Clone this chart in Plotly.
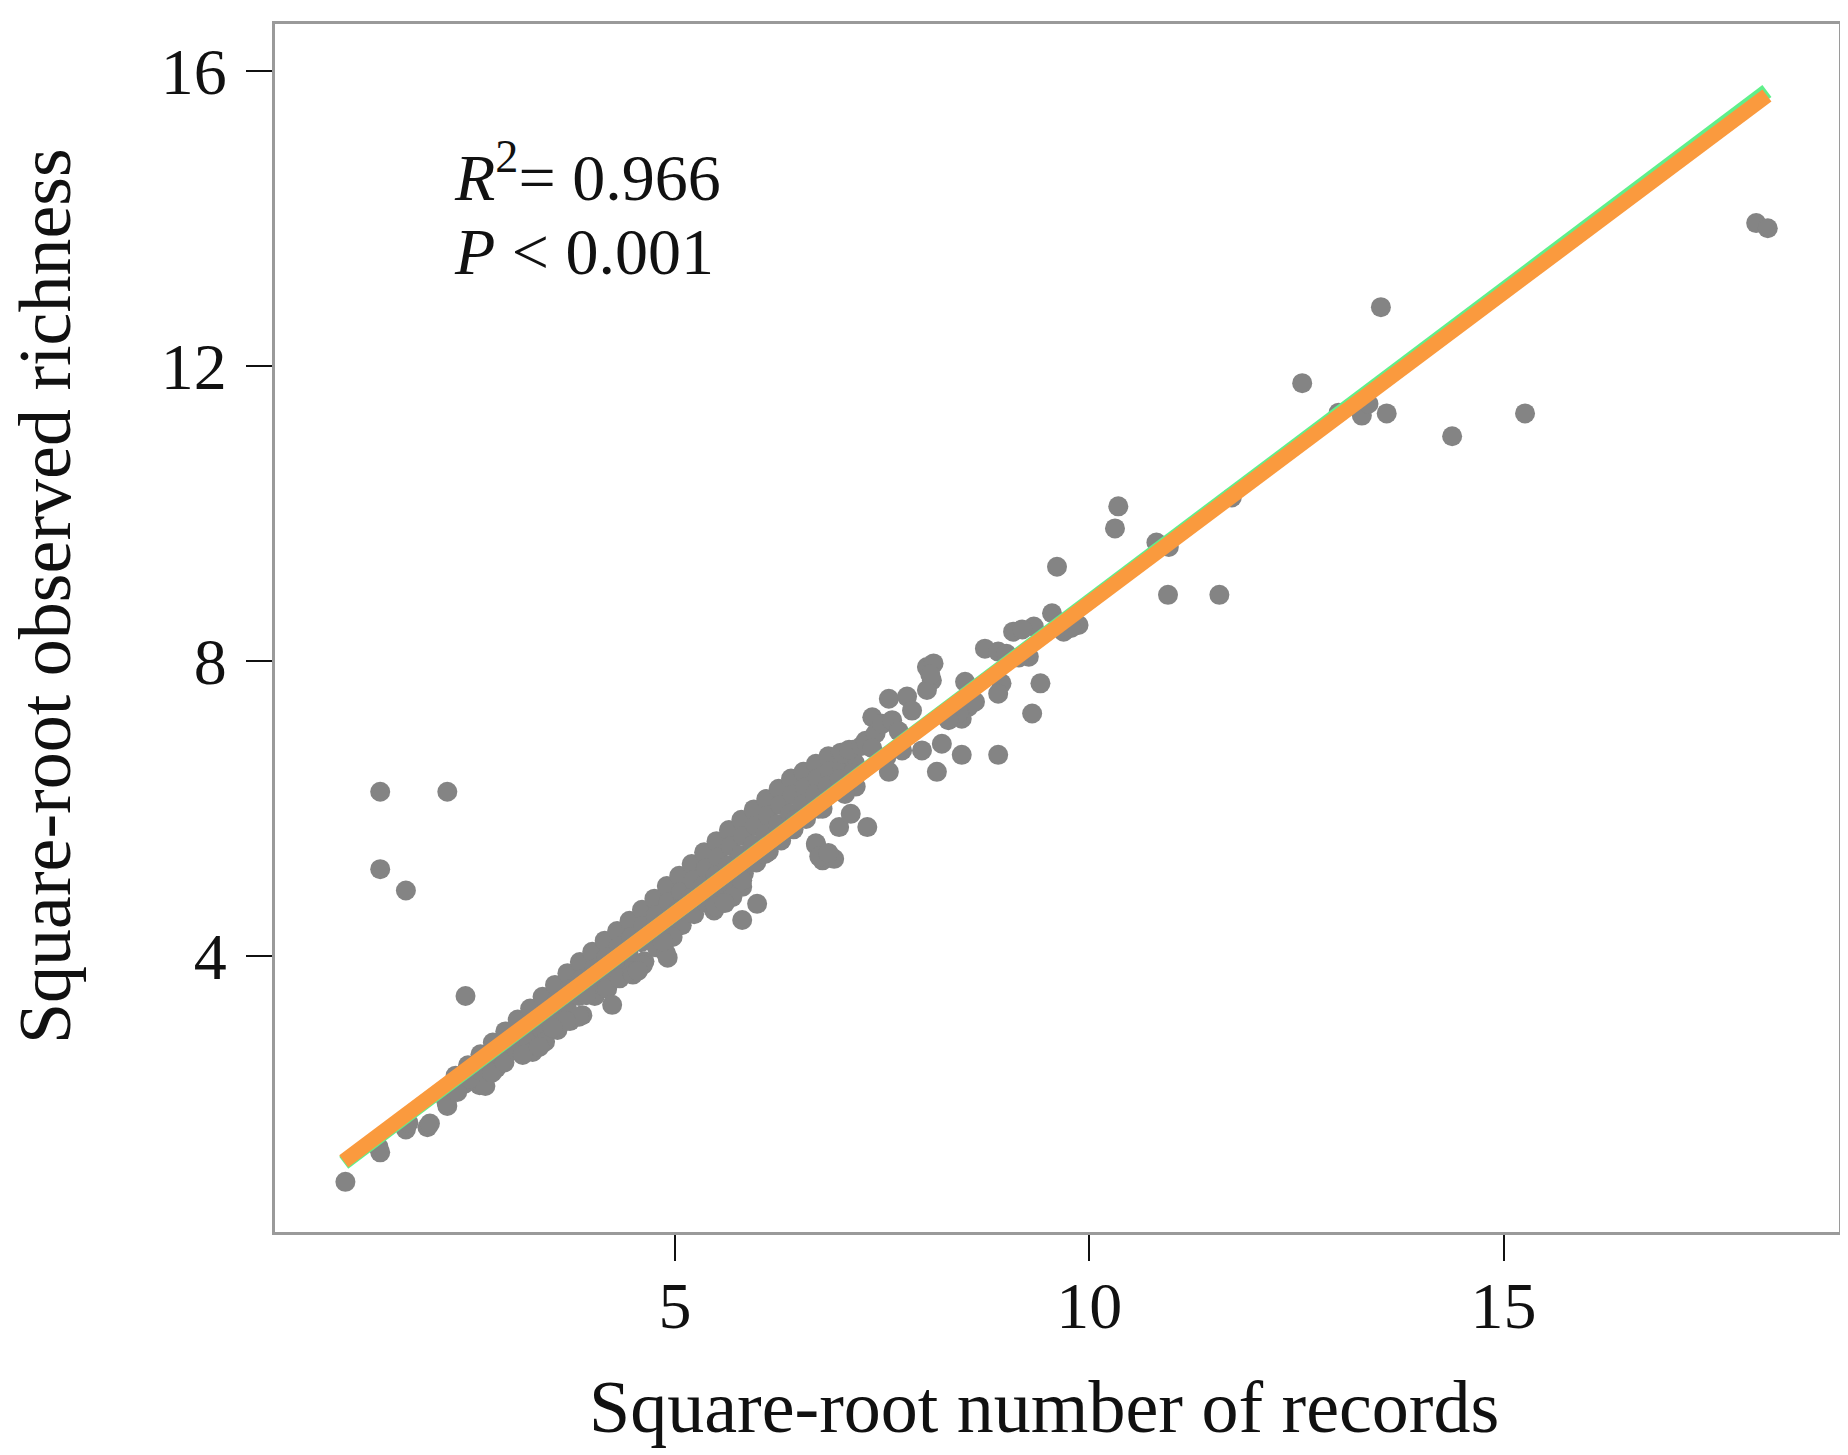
import plotly.graph_objects as go

# ---- data (sqrt records vs sqrt richness) ----
tail_x = [1.02, 1.42, 1.44, 1.75, 1.78, 2.01, 2.04, 2.25, 2.24, 2.47, 1.44, 2.25, 1.44, 1.75, 2.64, 2.46, 2.84, 2.71]
tail_y = [0.94, 1.41, 1.34, 1.65, 1.74, 1.68, 1.73, 1.97, 2.02, 3.46, 6.23, 6.23, 5.18, 4.89, 2.25, 2.27, 2.48, 2.24]

band_x = [2.35, 2.37,
          2.50, 2.52,
          2.65, 2.63,
          2.80, 2.82, 2.79,
          2.95, 2.97, 2.94,
          3.10, 3.12, 3.09,
          3.25, 3.27, 3.24, 3.28,
          3.40, 3.42, 3.39, 3.43,
          3.55, 3.57, 3.54, 3.58,
          3.70, 3.72, 3.69, 3.73,
          3.85, 3.87, 3.84, 3.88,
          4.00, 4.02, 3.99, 4.03,
          4.15, 4.17, 4.14, 4.18,
          4.30, 4.32, 4.29, 4.33,
          4.45, 4.47, 4.44, 4.48,
          4.60, 4.62, 4.59, 4.63,
          4.75, 4.77, 4.74, 4.78,
          4.90, 4.92, 4.89, 4.93,
          5.05, 5.07, 5.04, 5.08,
          5.20, 5.22, 5.19, 5.23,
          5.35, 5.37, 5.34, 5.38,
          5.50, 5.52, 5.49, 5.53,
          5.65, 5.67, 5.64, 5.68,
          5.80, 5.82, 5.79, 5.83,
          5.95, 5.97, 5.94, 5.98,
          6.10, 6.12, 6.09, 6.13,
          6.25, 6.27, 6.24, 6.28,
          6.40, 6.42, 6.39, 6.43,
          6.55, 6.57, 6.54, 6.58,
          6.70, 6.72, 6.69, 6.73,
          6.85, 6.87, 6.84,
          7.00, 7.02, 6.99,
          7.15, 7.17, 7.14]
band_y = [2.38, 2.16,
          2.52, 2.34,
          2.67, 2.46,
          2.83, 2.62, 2.42,
          2.98, 2.77, 2.56,
          3.14, 2.93, 2.72,
          3.29, 3.07, 2.86, 2.70,
          3.45, 3.23, 3.01, 2.84,
          3.61, 3.39, 3.16, 3.00,
          3.77, 3.55, 3.32, 3.12,
          3.92, 3.69, 3.46, 3.20,
          4.06, 3.83, 3.60, 3.46,
          4.21, 3.99, 3.76, 3.56,
          4.34, 4.13, 3.91, 3.70,
          4.48, 4.26, 4.03, 3.80,
          4.63, 4.41, 4.19, 3.93,
          4.78, 4.56, 4.33, 4.12,
          4.95, 4.73, 4.49, 4.27,
          5.09, 4.87, 4.63, 4.42,
          5.25, 5.03, 4.79, 4.57,
          5.41, 5.19, 4.95, 4.72,
          5.56, 5.34, 5.09, 4.86,
          5.71, 5.49, 5.23, 5.00,
          5.85, 5.63, 5.37, 5.12,
          5.99, 5.77, 5.51, 5.27,
          6.13, 5.91, 5.65, 5.42,
          6.27, 6.05, 5.79, 5.57,
          6.41, 6.19, 5.93, 5.72,
          6.50, 6.29, 6.06, 5.86,
          6.61, 6.41, 6.19, 6.00,
          6.71, 6.51, 6.31,
          6.76, 6.56, 6.40,
          6.80, 6.62, 6.48]

mid_x = [4.24, 4.89, 4.91, 4.97, 4.85, 4.49, 4.61, 4.55, 3.93, 3.84, 3.68, 3.52, 3.16, 3.36,
         5.47, 5.49, 5.81, 5.99, 5.81, 5.69, 5.60, 5.81, 6.09, 6.07, 6.41, 6.45,
         6.70, 6.78, 6.70, 6.74, 6.92, 6.85, 6.98, 7.12, 7.32, 6.78, 7.18, 7.05,
         7.02, 7.10, 7.25, 7.30, 7.38, 7.42, 7.38, 7.50, 7.58, 7.62, 7.70, 7.80, 7.86, 7.74, 7.55, 7.98, 7.58,
         8.22, 8.46, 8.90, 8.16,
         8.04, 8.12, 8.10, 8.04, 8.08, 8.50, 8.54, 8.46, 8.42, 8.30, 8.62,
         8.74, 8.90, 8.94, 8.90, 9.41, 9.31, 9.27, 9.33, 9.08, 9.19, 9.55, 9.69, 9.87, 9.78, 9.61, 9.00, 9.15]
mid_y = [3.34, 4.04, 3.98, 4.26, 4.20, 3.75, 3.88, 3.80, 3.47, 3.18, 3.12, 3.03, 2.66, 2.77,
         4.62, 4.67, 4.49, 4.71, 4.94, 4.80, 4.72, 5.03, 5.39, 5.39, 5.75, 5.85,
         5.51, 5.30, 5.53, 5.35, 5.32, 5.40, 5.75, 5.93, 5.75, 6.00, 6.30, 6.20,
         6.75, 6.80, 6.85, 6.92, 7.24, 7.02, 6.82, 7.15, 7.49, 7.20, 7.05, 7.52, 7.33, 6.79, 6.70, 6.79, 6.50,
         6.88, 6.73, 6.73, 6.50,
         7.92, 7.97, 7.74, 7.61, 7.82, 7.72, 7.38, 7.22, 7.30, 7.20, 7.45,
         8.17, 8.13, 7.70, 7.56, 7.70, 7.29, 8.06, 8.47, 8.40, 8.43, 8.65, 8.40, 8.49, 8.45, 9.28, 8.10, 8.05]

high_x = [10.35, 10.31, 10.81, 10.96, 10.95, 11.57, 11.72, 12.57, 13.01, 13.29, 13.37, 13.59, 13.52, 14.38, 15.26, 18.05, 18.19]
high_y = [10.10, 9.80, 9.61, 9.55, 8.90, 8.90, 10.22, 11.77, 11.37, 11.33, 11.49, 11.36, 12.80, 11.05, 11.36, 13.94, 13.87]

fit_x = [1.00, 18.18]
fit_y = [1.22, 15.67]
alt_fit_y = [1.20, 15.73]

x_ticks = [5, 10, 15]
y_ticks = [4, 8, 12, 16]

FONT = "Liberation Serif"
INK = "#111111"

fig = go.Figure()
all_x = tail_x + band_x + mid_x + high_x
all_y = tail_y + band_y + mid_y + high_y
fig.add_trace(go.Scatter(x=all_x, y=all_y, mode="markers",
                         marker=dict(size=20, color="#848484", line=dict(width=0)),
                         showlegend=False, hoverinfo="skip"))
fig.add_trace(go.Scatter(x=fit_x, y=alt_fit_y, mode="lines",
                         line=dict(color="#5FF08A", width=15), showlegend=False))
fig.add_trace(go.Scatter(x=fit_x, y=fit_y, mode="lines",
                         line=dict(color="#FA9A3E", width=15), showlegend=False))

axis_common = dict(showgrid=False, zeroline=False, showline=True, mirror=True,
                   linecolor="#9a9a9a", linewidth=3, ticks="outside", ticklen=26,
                   tickwidth=2, tickcolor=INK,
                   tickfont=dict(family=FONT, size=66, color=INK))

fig.update_xaxes(range=[0.17, 19.05], tickvals=x_ticks, ticklabelstandoff=-12, **axis_common)
fig.update_yaxes(range=[0.26, 16.64], tickvals=y_ticks, ticklabelstandoff=6, **axis_common)

fig.add_annotation(x=2.31, y=14.62, xref="x", yref="y", xanchor="left", yanchor="middle",
                   text="<i>R</i><sup>2</sup>= 0.966", showarrow=False,
                   font=dict(family=FONT, size=66, color=INK))
fig.add_annotation(x=2.31, y=13.55, xref="x", yref="y", xanchor="left", yanchor="middle",
                   text="<i>P</i> &lt; 0.001", showarrow=False,
                   font=dict(family=FONT, size=66, color=INK))

fig.add_annotation(x=0.492, y=-0.145, xref="paper", yref="paper", xanchor="center", yanchor="middle",
                   text="Square-root number of records", showarrow=False,
                   font=dict(family=FONT, size=74, color=INK))
fig.add_annotation(x=-0.147, y=0.5265, xref="paper", yref="paper", xanchor="center", yanchor="middle",
                   text="Square-root observed richness", showarrow=False, textangle=-90,
                   font=dict(family=FONT, size=74, color=INK))

# page body has an 8px margin, so the figure is sized to fit inside the window
fig.update_layout(width=1840, height=1447, margin=dict(l=267, r=6, t=16, b=223),
                  paper_bgcolor="white", plot_bgcolor="white", showlegend=False)

fig.write_html("out.html")
